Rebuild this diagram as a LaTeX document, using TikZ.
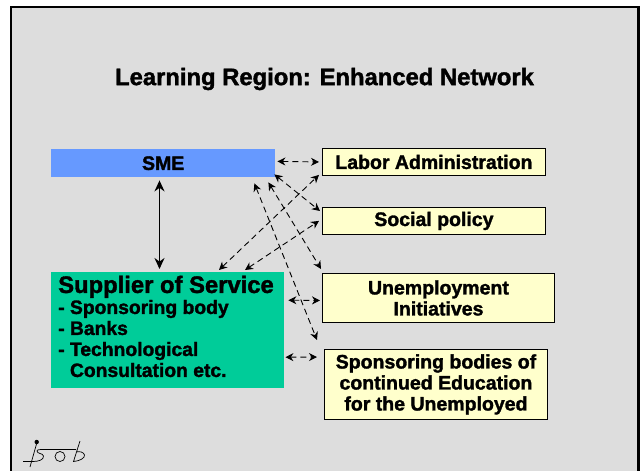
\documentclass[tikz,border=0pt]{standalone}
\usepackage{fontspec}
\setmainfont[BoldFeatures={FakeBold=1.6}]{Liberation Sans}
\usetikzlibrary{arrows.meta}
\definecolor{smeblue}{HTML}{6699FF}
\definecolor{suppliergreen}{HTML}{00CC99}
\definecolor{boxyellow}{HTML}{FFFFCC}
\definecolor{slidegray}{HTML}{DDDDDD}
\tikzset{
	sbox/.style={draw=black,line width=0.9pt,fill=boxyellow,font=\fontsize{19.5}{21}\selectfont\bfseries,align=center,inner sep=0pt,anchor=north west},
	dbl/.style={{Stealth[length=8pt,width=8pt]}-{Stealth[length=8pt,width=8pt]},line width=0.9pt,dash pattern=on 6pt off 4pt},
}
\begin{document}
\begin{tikzpicture}[x=1pt,y=-1pt]
		\useasboundingbox (0,0) rectangle (640,471);
		% Rahmen
		\fill[slidegray] (11,7) rectangle (639,471);
		\draw[line width=2.6pt,black] (11,471) -- (11,7) -- (638.5,7) -- (638.5,471);
		% Titel
		\node[font=\fontsize{23.8}{26}\selectfont\bfseries] (title) at (324.5,79) {Learning Region: Enhanced Network};
		% linke Boxen
		\node[fill=smeblue,minimum width=224pt,minimum height=28pt,inner sep=0pt,anchor=north west,font=\fontsize{19.5}{21}\selectfont\bfseries] (sme) at (51,149) {SME};
		\node[fill=suppliergreen,minimum width=233pt,minimum height=116pt,inner sep=0pt,anchor=north west] (supplier) at (51,272) {};
		\node[anchor=north west,inner sep=0pt,align=left,font=\fontsize{19.3}{21}\selectfont\bfseries] (suppliertext) at (58,275.5) {{\fontsize{23.8}{21}\selectfont Supplier of Service}\\- Sponsoring body\\- Banks\\- Technological\\\hphantom{- }Consultation etc.};
		% rechte Boxen
		\node[sbox,minimum width=223pt,minimum height=27pt] (labor) at (322,148) {Labor Administration};
		\node[sbox,minimum width=223pt,minimum height=27pt] (social) at (322,207) {Social policy};
		\node[sbox,minimum width=232pt,minimum height=49pt] (unemp) at (322,273) {Unemployment\\Initiatives};
		\node[sbox,minimum width=223pt,minimum height=70pt] (sponsor) at (324,349) {Sponsoring bodies of\\continued Education\\for the Unemployed};
		% Pfeil SME - Supplier
		\draw[{Stealth[length=11pt,width=10pt]}-{Stealth[length=11pt,width=10pt]},line width=1.5pt] ([xshift=108.5pt,yshift=-3pt]sme.south west) -- ([xshift=108.5pt,yshift=3pt]supplier.north west);
		% Pfeile SME
		\draw[dbl] ([xshift=2pt,yshift=16pt]sme.south east) -- ([xshift=-3pt]labor.west);
		\draw[dbl] ([xshift=-1pt,yshift=3pt]sme.south east) -- ([xshift=-2pt,yshift=-4pt]social.north west);
		\draw[dbl] ([xshift=-7pt,yshift=-5pt]sme.south east) -- ([xshift=-1pt,yshift=4pt]unemp.north west);
		\draw[dbl] ([xshift=-21pt,yshift=-6pt]sme.south east) -- ([xshift=-7pt,yshift=9pt]sponsor.north west);
		% Pfeile Supplier
		\draw[dbl] ([xshift=168pt,yshift=2pt]supplier.north west) -- ([xshift=-3pt,yshift=1pt]labor.south west);
		\draw[dbl] ([xshift=194pt,yshift=2pt]supplier.north west) -- ([xshift=-3pt,yshift=14pt]social.south west);
		\draw[dbl] ([xshift=4pt,yshift=30pt]supplier.east) -- ([xshift=-2pt,yshift=-2.5pt]unemp.west);
		\draw[dbl] ([xshift=1pt,yshift=-27pt]supplier.east) -- ([xshift=-7pt,yshift=-8pt]sponsor.north west);
		% Logo
		\fill (36.7,442) circle (2.2pt);
		\draw[line width=0.7pt] (36.5,444) -- (30,467);
		\draw[line width=0.7pt] (23,461.5) -- (33,461.5) .. controls (38,461.5) and (44,460) .. (43.5,456) .. controls (43,453) and (37,454) .. (37,451) .. controls (37,449.5) and (40,449.5) .. (44,449.5) -- (76,449.5);
		\draw[line width=0.7pt] (60,456.5) circle (5pt);
		\draw[line width=0.7pt] (80,441) -- (73.5,461.5) .. controls (80,461) and (85,458) .. (84.5,455) .. controls (84,452) and (79,451) .. (76.5,452);
	\end{tikzpicture}
\end{document}
